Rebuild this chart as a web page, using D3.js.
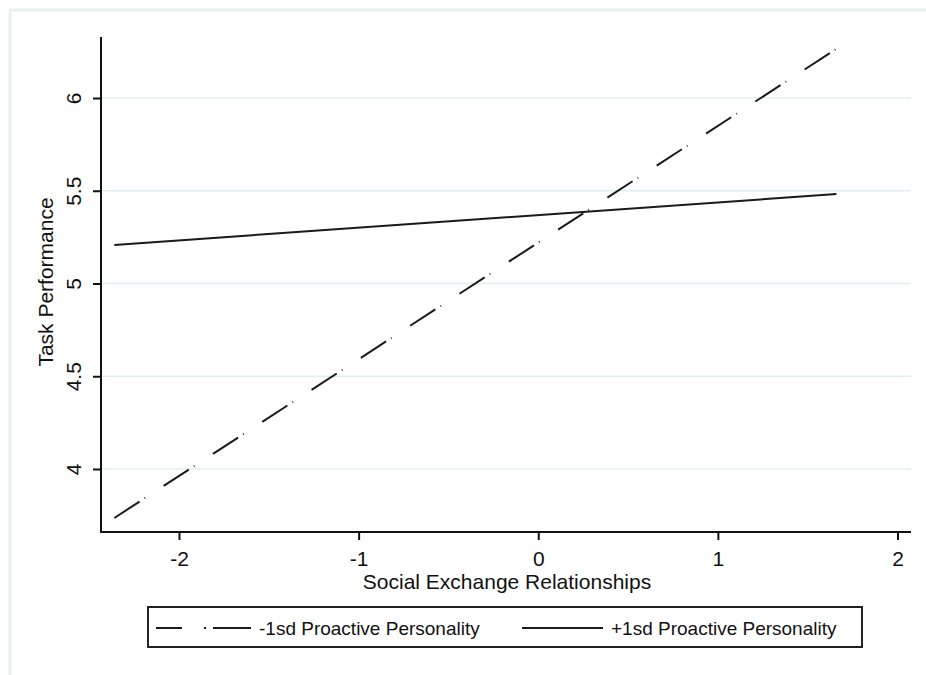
<!DOCTYPE html>
<html>
<head>
<meta charset="utf-8">
<script src="https://cdn.jsdelivr.net/npm/d3@7"></script>
<style>
  html, body { margin: 0; padding: 0; background: #fff; }
  svg { display: block; font-family: "Liberation Sans", Arial, sans-serif; }
</style>
</head>
<body>
<div id="chart"></div>
<script>
// ─── Data ───────────────────────────────────────────────────
const xEnds = [-2.36, 1.66];           // Social Exchange Relationships (centred)
const lowProactive = [3.736, 6.265];   // -1sd Proactive Personality
const highProactive = [5.208, 5.482];  // +1sd Proactive Personality
const xTicks = [-2, -1, 0, 1, 2];
const yTicks = [4, 4.5, 5, 5.5, 6];
const seriesNames = ["-1sd Proactive Personality", "+1sd Proactive Personality"];

// ─── Layout ─────────────────────────────────────────────────
const W = 926, H = 675;
const axisLeft = 101, axisRight = 911, axisTop = 37, axisBottom = 532;
const plainNum = d => String(d); // hyphen-minus like the original, not U+2212

const svg = d3.select("#chart").append("svg")
  .attr("width", W).attr("height", H);

// outer frame
svg.append("rect")
  .attr("x", 10).attr("y", 10).attr("width", W).attr("height", H)
  .attr("fill", "#fff").attr("stroke", "#e6eff1").attr("stroke-width", 3);

const x = d3.scaleLinear().domain([-2, 2]).range([179, 897.5]);
const y = d3.scaleLinear().domain([4, 6]).range([469, 98]);

// gridlines
svg.append("g").selectAll("line").data(yTicks).join("line")
  .attr("x1", axisLeft + 1).attr("x2", axisRight)
  .attr("y1", d => y(d)).attr("y2", d => y(d))
  .attr("stroke", "#e3edf1").attr("stroke-width", 1.5);

// y axis
const yAxis = svg.append("g")
  .attr("transform", `translate(${axisLeft},0)`)
  .call(d3.axisLeft(y).tickValues(yTicks).tickSize(8).tickSizeOuter(0).tickFormat(plainNum));
yAxis.select(".domain").remove();
yAxis.append("line").attr("y1", axisTop).attr("y2", axisBottom + 1)
  .attr("stroke", "#111").attr("stroke-width", 2);
yAxis.selectAll(".tick line").attr("stroke", "#111").attr("stroke-width", 2);
yAxis.selectAll(".tick text")
  .attr("x", null).attr("dy", null)
  .attr("transform", "translate(-20,0) rotate(-90)")
  .attr("text-anchor", "middle")
  .attr("fill", "#111").attr("font-size", 21)
  .attr("font-family", "Liberation Sans, Arial, sans-serif");

// x axis
const xAxis = svg.append("g")
  .attr("transform", `translate(0,${axisBottom})`)
  .call(d3.axisBottom(x).tickValues(xTicks).tickSize(8).tickSizeOuter(0).tickFormat(plainNum));
xAxis.select(".domain").remove();
xAxis.append("line").attr("x1", axisLeft - 1).attr("x2", axisRight)
  .attr("stroke", "#111").attr("stroke-width", 2);
xAxis.selectAll(".tick line").attr("stroke", "#111").attr("stroke-width", 2);
xAxis.selectAll(".tick text")
  .attr("y", 34).attr("dy", null)
  .attr("fill", "#111").attr("font-size", 21)
  .attr("font-family", "Liberation Sans, Arial, sans-serif");

// axis titles
svg.append("text")
  .attr("x", 507).attr("y", 589)
  .attr("text-anchor", "middle").attr("font-size", 21).attr("fill", "#111")
  .text("Social Exchange Relationships");
svg.append("text")
  .attr("transform", "translate(53,282) rotate(-90)")
  .attr("text-anchor", "middle").attr("font-size", 21).attr("fill", "#111")
  .text("Task Performance");

// lines
const line = d3.line().x(d => x(d[0])).y(d => y(d[1]));
svg.append("path")
  .datum(d3.zip(xEnds, lowProactive))
  .attr("d", line)
  .attr("fill", "none").attr("stroke", "#1a1a1a").attr("stroke-width", 2)
  .attr("stroke-dasharray", "30,6,0.8,22");
svg.append("path")
  .datum(d3.zip(xEnds, highProactive))
  .attr("d", line)
  .attr("fill", "none").attr("stroke", "#1a1a1a").attr("stroke-width", 2);

// legend
const legend = svg.append("g");
legend.append("rect")
  .attr("x", 148).attr("y", 607).attr("width", 714).attr("height", 40)
  .attr("fill", "#fff").attr("stroke", "#222").attr("stroke-width", 2);
const legendItems = [
  { x1: 156, x2: 251, tx: 259, dash: "26,22,2,7,40" },
  { x1: 522, x2: 603, tx: 611, dash: null }
];
legendItems.forEach((it, i) => {
  legend.append("line")
    .attr("x1", it.x1).attr("x2", it.x2).attr("y1", 628).attr("y2", 628)
    .attr("stroke", "#1a1a1a").attr("stroke-width", 2)
    .attr("stroke-dasharray", it.dash);
  legend.append("text")
    .attr("x", it.tx).attr("y", 635)
    .attr("font-size", 19).attr("fill", "#111")
    .text(seriesNames[i]);
});
</script>
</body>
</html>
